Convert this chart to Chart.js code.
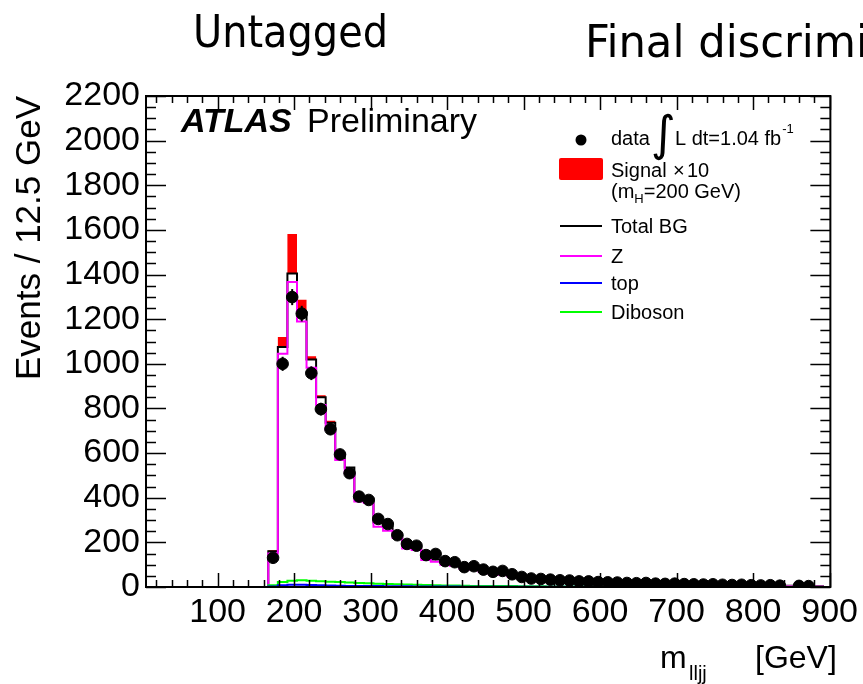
<!DOCTYPE html>
<html><head><meta charset="utf-8">
<script src="https://cdn.jsdelivr.net/npm/chart.js@4.4.0/dist/chart.umd.min.js"></script>
<style>html,body{margin:0;padding:0;background:#fff;}#wrap{width:863px;height:684px;position:relative;}</style>
</head><body><div id="wrap"><canvas id="c" width="863" height="684"></canvas></div>
<script>
// ---- data (bins of 12.5 GeV, first bin starts at 166.25 GeV) ----
const binWidth = 12.5;
const firstEdge = 166.25;
const dataValues = [131,1000,1299,1225,958,797,707,594,510,405,390,305,282,232,193,185,143,148,116,111,
  89,93,78,68,72,57,45,38,36,33,30,29,25,25,22,21,20,18,17,18,
  15,14,15,13,12,11,12,10,9,10,8,7,8,6,null,5,4];
const zValues = [150,1045,1367,1190,982,816,705,569,510,383,376,270,252,220,173,166,121,113,100,95,
  82,78,68,60,55,48,42,37,33,30,27,25,22,20,18,17,15,14,13,12,
  11,10,9,8.5,8,7.5,7,6.5,6,5.5,5,4.8,4.5,4.2,4,3.8,3.5,3.3];
const dibosonValues = [8,22,28,30,28,26,24,22,20,18,17,15,14,12,11,10,9,8,7,7,
  6,5,5,4,4,4,3,3,3,2,2,2,2,2,1.5,1.5,1.5,1,1,1,
  1,1,1,1,1,1,1,1,1,1,1,1,1,1,1,1,1,1];
const topValues = [2,8,10,10,9,8,7,6,5,5,4,4,3,3,3,2,2,2,2,2,
  1.5,1.5,1.5,1,1,1,1,1,1,1,1,1,1,1,0.5,0.5,0.5,0.5,0.5,0.5,
  0.5,0.5,0.5,0.5,0.5,0.5,0.5,0.5,0.5,0.5,0.5,0.5,0.5,0.5,0.5,0.5,0.5,0.5];
const totalBGValues = [160,1075,1405,1230,1019,850,736,597,535,406,397,289,269,235,187,178,132,123,109,104,
  90,85,75,65,60,53,46,41,37,33,30,28,25,23,20,19,17,15.5,14.5,13.5,
  12.5,11.5,10.5,10,9.5,9,8.5,8,7.5,7,6.5,6.3,6,5.7,5.5,5.3,5,4.8];
const signalX10Values = [5,45,177,57,15,9,9,5,3,2,2,1,1,1,1,1,0.5,0.5,0.5,0.5];
const xTickValues = [100,200,300,400,500,600,700,800,900];
const yTickValues = [0,200,400,600,800,1000,1200,1400,1600,1800,2000,2200];
const xMin = 6.4, xMax = 901, yMin = 0, yMax = 2200;

function histPoints(vals){
  const pts=[{x:xMin,y:0}];
  vals.forEach((v,i)=>pts.push({x:firstEdge+i*binWidth,y:v}));
  pts.push({x:firstEdge+vals.length*binWidth,y:0});
  pts.push({x:xMax,y:0});
  return pts;
}
const sigPlusBG = totalBGValues.map((v,i)=>v+(signalX10Values[i]||0));
const dataPoints = dataValues.map((v,i)=>({x:firstEdge+(i+0.5)*binWidth,y:v})).filter(p=>p.y!==null);

const FONT = "'Liberation Sans', Arial, Helvetica, sans-serif";

const deco = {
  id:'deco',
  afterDatasetsDraw(chart){
    const ctx=chart.ctx, xs=chart.scales.x, ys=chart.scales.y;
    ctx.save();
    ctx.strokeStyle='#000'; ctx.lineWidth=2;
    dataPoints.forEach(p=>{
      const e=Math.sqrt(p.y);
      const px=xs.getPixelForValue(p.x);
      ctx.beginPath();
      ctx.moveTo(px,ys.getPixelForValue(p.y-e));
      ctx.lineTo(px,ys.getPixelForValue(p.y+e));
      ctx.stroke();
    });
    ctx.restore();
  },
  afterDraw(chart){
    const ctx=chart.ctx, xs=chart.scales.x, ys=chart.scales.y, a=chart.chartArea;
    ctx.save();
    ctx.strokeStyle='#000'; ctx.lineWidth=2;
    ctx.strokeRect(a.left,a.top,a.right-a.left,a.bottom-a.top);
    ctx.lineWidth=1.5;
    for(let v=yMin; v<=yMax; v+=50){
      const py=Math.round(ys.getPixelForValue(v))+0.5;
      const L=(v%200===0)?20:10;
      ctx.beginPath();
      ctx.moveTo(a.left,py); ctx.lineTo(a.left+L,py);
      ctx.moveTo(a.right,py); ctx.lineTo(a.right-L,py);
      ctx.stroke();
    }
    for(let v=20; v<=xMax; v+=20){
      const px=Math.round(xs.getPixelForValue(v))+0.5;
      const L=(v%100===0)?14:7;
      ctx.beginPath();
      ctx.moveTo(px,a.bottom); ctx.lineTo(px,a.bottom-L);
      ctx.moveTo(px,a.top); ctx.lineTo(px,a.top+L);
      ctx.stroke();
    }
    ctx.restore();

    ctx.save();
    ctx.fillStyle='#000';
    ctx.save();
    ctx.translate(40,238);
    ctx.rotate(-Math.PI/2);
    ctx.font='35px '+FONT;
    ctx.textAlign='center';
    ctx.fillText('Events / 12.5 GeV',0,0);
    ctx.restore();
    ctx.font='32px '+FONT;
    ctx.textAlign='left';
    ctx.fillText('m',660,668);
    ctx.font='20px '+FONT;
    ctx.fillText('lljj',689,680);
    ctx.font='32px '+FONT;
    ctx.fillText('[GeV]',755,668);
    ctx.font='italic bold 34px '+FONT;
    ctx.fillText('ATLAS',181,132);
    ctx.font='34px '+FONT;
    ctx.fillText('Preliminary',307,132);

    ctx.beginPath(); ctx.arc(581,140,5.5,0,Math.PI*2); ctx.fill();
    ctx.font='20px '+FONT;
    ctx.fillText('data',611,145);
    ctx.font='48px DejaVu Sans';
    ctx.fillText('\u222B',651,150);
    ctx.font='20px '+FONT;
    ctx.fillText('L dt=1.04 fb',675,145);
    const w1=ctx.measureText('L dt=1.04 fb').width;
    ctx.font='13px '+FONT;
    ctx.fillText('-1',675+w1+1,133);
    ctx.fillStyle='#ff0000';
    ctx.beginPath(); ctx.roundRect ? ctx.roundRect(559,158,44,22,2) : ctx.rect(559,158,44,22); ctx.fill();
    ctx.fillStyle='#000';
    ctx.font='20px '+FONT;
    ctx.fillText('Signal',611,177);
    ctx.fillText('\u00D7',673,177);
    ctx.fillText('10',687,177);
    ctx.fillText('(m',611,198);
    const w2=ctx.measureText('(m').width;
    ctx.font='13px '+FONT;
    ctx.fillText('H',611+w2,203);
    const w3=ctx.measureText('H').width;
    ctx.font='20px '+FONT;
    ctx.fillText('=200 GeV)',611+w2+w3,198);
    const rows=[['Total BG','#000000',226],['Z','#ff00ff',256],['top','#0000ff',283],['Diboson','#00ff00',312]];
    rows.forEach(r=>{
      ctx.strokeStyle=r[1]; ctx.lineWidth=2;
      ctx.beginPath(); ctx.moveTo(560,r[2]); ctx.lineTo(602,r[2]); ctx.stroke();
      ctx.fillStyle='#000';
      ctx.fillText(r[0],611,r[2]+7);
    });

    ctx.font='45px "DejaVu Sans Condensed", "DejaVu Sans", sans-serif';
    const tw=ctx.measureText('Untagged').width;
    const sx=195/tw;
    ctx.save(); ctx.translate(193,47); ctx.scale(sx,1); ctx.fillText('Untagged',0,0); ctx.restore();
    const tw2=ctx.measureText('Final discrimi').width;
    const sx2=283/tw2;
    ctx.save(); ctx.translate(585,57); ctx.scale(sx2,1); ctx.fillText('Final discrimi',0,0); ctx.restore();
    ctx.restore();
  }
};

const histLine = (label,vals,color,order,extra)=>Object.assign({
  type:'line', label, data:histPoints(vals), borderColor:color, borderWidth:2,
  stepped:true, pointRadius:0, fill:false, order
}, extra||{});

new Chart(document.getElementById('c'),{
  type:'line',
  data:{datasets:[
    {type:'scatter',label:'data',data:dataPoints,backgroundColor:'#000',borderColor:'#000',pointRadius:5.8,pointHoverRadius:5.8,showLine:false,order:0},
    histLine('top',topValues,'#0000ff',1),
    histLine('Diboson',dibosonValues,'#00ff00',2),
    histLine('Z',zValues,'#ff00ff',3),
    histLine('Total BG',totalBGValues,'#000000',4,{fill:'origin',backgroundColor:'#ffffff'}),
    histLine('Signal x 10',sigPlusBG,'rgba(0,0,0,0)',5,{fill:'origin',backgroundColor:'#ff0000',borderWidth:0})
  ]},
  options:{
    responsive:false, animation:false, devicePixelRatio:1,
    layout:{padding:{top:96,right:29,left:0,bottom:0}},
    plugins:{legend:{display:false},tooltip:{enabled:false},title:{display:false}},
    scales:{
      x:{type:'linear',min:xMin,max:xMax,
        grid:{display:false,drawTicks:false},border:{display:false},
        afterBuildTicks:s=>{s.ticks=xTickValues.map(v=>({value:v}));},
        afterFit:s=>{s.height=97;},
        ticks:{color:'#000',font:{family:FONT,size:34},padding:5,maxRotation:0,autoSkip:false,callback:v=>String(v)}},
      y:{type:'linear',min:yMin,max:yMax,
        grid:{display:false,drawTicks:false},border:{display:false},
        afterBuildTicks:s=>{s.ticks=yTickValues.map(v=>({value:v}));},
        afterFit:s=>{s.width=146;},
        ticks:{color:'#000',font:{family:FONT,size:34},padding:6,autoSkip:false,callback:v=>String(v)}}
    }
  },
  plugins:[deco]
});
</script></body></html>
